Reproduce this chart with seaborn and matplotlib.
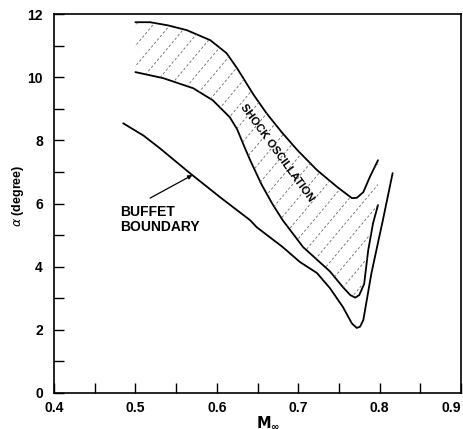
import numpy as np
import pandas as pd
import matplotlib
matplotlib.use("Agg")
import matplotlib.pyplot as plt
import seaborn as sns
from matplotlib.patches import Polygon
from matplotlib.ticker import MultipleLocator

# Upper boundary of shock-oscillation band
top_M = [0.500, 0.518, 0.540, 0.563, 0.592, 0.612, 0.625, 0.645, 0.661, 0.680,
         0.699, 0.723, 0.748, 0.766, 0.772, 0.780, 0.788, 0.798]
top_a = [11.74, 11.74, 11.64, 11.49, 11.17, 10.76, 10.28, 9.45, 8.86, 8.25,
         7.69, 7.06, 6.52, 6.17, 6.18, 6.36, 6.84, 7.37]

# Lower boundary of shock-oscillation band
mid_M = [0.500, 0.534, 0.571, 0.595, 0.616, 0.625, 0.633, 0.641, 0.655, 0.668,
         0.681, 0.706, 0.739, 0.755, 0.764, 0.770, 0.775, 0.781, 0.786, 0.792, 0.798]
mid_a = [10.16, 9.97, 9.65, 9.27, 8.73, 8.35, 7.85, 7.37, 6.60, 6.00,
         5.47, 4.62, 3.85, 3.35, 3.10, 3.02, 3.10, 3.45, 4.52, 5.38, 5.95]

# Buffet boundary
buf_M = [0.485, 0.510, 0.530, 0.567, 0.604, 0.641, 0.649, 0.681, 0.702, 0.723,
         0.739, 0.755, 0.766, 0.772, 0.776, 0.780, 0.790, 0.804, 0.816]
buf_a = [8.54, 8.15, 7.75, 6.96, 6.20, 5.47, 5.25, 4.62, 4.15, 3.80,
         3.32, 2.72, 2.20, 2.06, 2.10, 2.31, 3.80, 5.47, 6.96]

x_ticks = [0.4, 0.5, 0.6, 0.7, 0.8, 0.9]
y_ticks = [0, 2, 4, 6, 8, 10, 12]

sns.set_theme(style="white")
plt.rcParams['font.family'] = ['Liberation Sans', 'DejaVu Sans']
plt.rcParams['mathtext.fontset'] = 'dejavusans'
plt.rcParams['text.color'] = 'black'
plt.rcParams['axes.labelcolor'] = 'black'
plt.rcParams['xtick.color'] = 'black'
plt.rcParams['ytick.color'] = 'black'

fig = plt.figure(figsize=(4.63, 4.29), dpi=100)
ax = fig.add_axes([54/463, 1-393/429, 407/463, 379/429])

for M, a in [(top_M, top_a), (mid_M, mid_a), (buf_M, buf_a)]:
    df = pd.DataFrame({"M": M, "a": a})
    sns.lineplot(data=df, x="M", y="a", sort=False, estimator=None,
                 color="black", lw=1.3, ax=ax)

ax.set_xlim(0.4, 0.9)
ax.set_ylim(0, 12)

# hatching in the band
poly = Polygon(np.column_stack([top_M + mid_M[::-1], top_a + mid_a[::-1]]),
               closed=True, facecolor='none', edgecolor='none')
ax.add_patch(poly)
slope = np.tan(np.radians(50)) * (814 / 31.6)
for x0 in np.arange(0.10, 0.75, 0.021):
    ln = ax.axline((x0, 0), slope=slope, color='0.4', lw=0.6,
                   linestyle=(0, (3, 2.5)))
    ln.set_clip_path(poly)

ax.set_xticks(x_ticks)
ax.set_yticks(y_ticks)
ax.set_xticklabels([f"{v:.1f}" for v in x_ticks])
ax.set_yticklabels([str(v) for v in y_ticks])
ax.xaxis.set_minor_locator(MultipleLocator(0.05))
ax.yaxis.set_minor_locator(MultipleLocator(1))
ax.tick_params(which='both', direction='in', length=7, width=1, color='black',
               bottom=True, left=True, top=False, right=False)
ax.tick_params(axis='x', which='major', pad=6)
ax.tick_params(axis='y', which='major', pad=8)
for lab in ax.get_xticklabels() + ax.get_yticklabels():
    lab.set_fontsize(10)
    lab.set_fontweight('bold')
    lab.set_color('black')
ax.get_xticklabels()[-1].set_horizontalalignment('right')
for s in ax.spines.values():
    s.set_color('black')
    s.set_linewidth(1.2)

ax.set_xlabel(r'$\mathbf{M}_{\mathbf{\infty}}$', fontsize=10.5, color='black')
ax.xaxis.set_label_coords((268-54)/407, -0.055)
ax.set_ylabel(r'$\alpha$ (degree)', fontsize=9, fontweight='bold', color='black')
ax.yaxis.set_label_coords(-0.068, 0.52)

ax.text(0.481, 5.95, "BUFFET\nBOUNDARY", fontsize=10, fontweight='bold',
        ha='left', va='top', linespacing=1.1, color='black')
ax.annotate('', xy=(0.570, 6.90), xytext=(0.518, 6.17),
            arrowprops=dict(arrowstyle='-|>', lw=0.9, color='black',
                            mutation_scale=6, shrinkA=0, shrinkB=0))
ax.text(0.674, 7.6, "SHOCK OSCILLATION", fontsize=8, fontweight='bold',
        rotation=-54, rotation_mode='anchor', ha='center', va='center',
        color='black')

fig.savefig("out.png", dpi=100)
